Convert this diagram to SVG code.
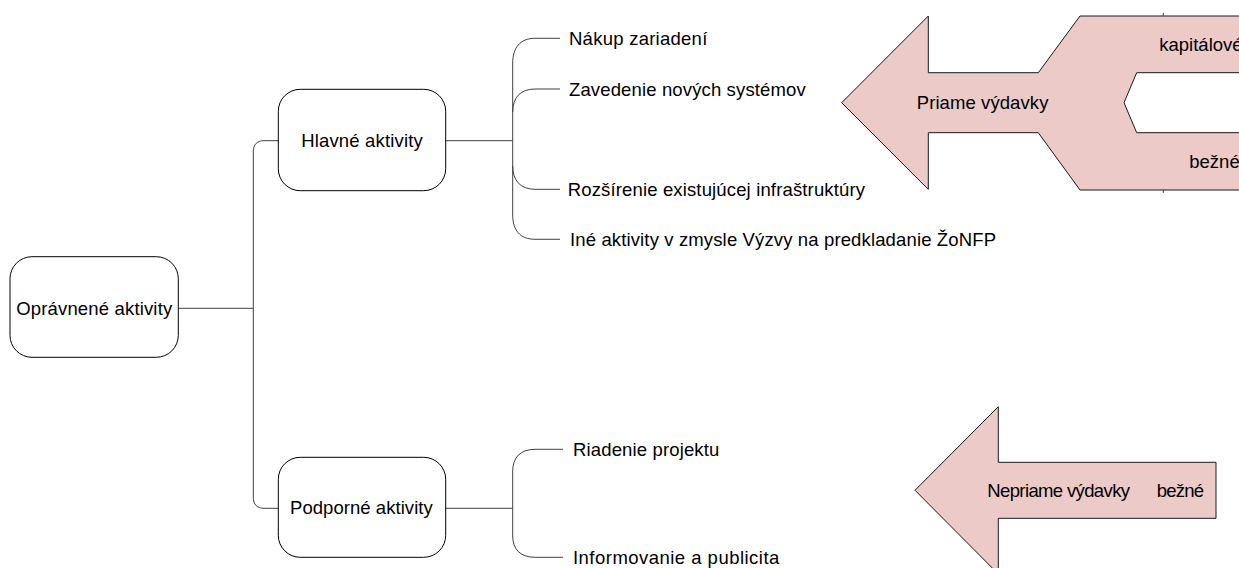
<svg xmlns="http://www.w3.org/2000/svg" width="1239" height="568" viewBox="0 0 1239 568">
<style>
  .node { fill: #ffffff; stroke: #000000; stroke-width: 1; }
  .conn { fill: none; stroke: #404040; stroke-width: 1; }
  .arrow { fill: #ebcac7; stroke: #1a1a1a; stroke-width: 1; stroke-linejoin: miter; }
  text { font-family: "Liberation Sans", Arial, sans-serif; font-size: 18.5px; fill: #000000; }
  .mid { text-anchor: middle; }
</style>
<rect x="0" y="0" width="1239" height="568" fill="#ffffff"/>

<g id="connectors">
  <path class="conn" d="M178.3 308.3 H253.3"/>
  <path class="conn" d="M278.3 140.7 H264 C257 140.7 253.3 144.5 253.3 151.7 V497.3 C253.3 504.5 257 508.3 264 508.3 H278.3"/>
  <path class="conn" d="M445.7 140.7 H512.7"/>
  <path class="conn" d="M560 38.3 H535 C520 38.3 512.7 48 512.7 63 V215 C512.7 230 520 239.3 535 239.3 H560"/>
  <path class="conn" d="M560 89 H535 C520 89 512.7 98 512.7 112"/>
  <path class="conn" d="M512.7 166 C512.7 180 520 189.3 535 189.3 H560"/>
  <path class="conn" d="M445.7 508.3 H512.7"/>
  <path class="conn" d="M563 449.3 H535 C520 449.3 512.7 458 512.7 471 V536 C512.7 549 520 557.3 535 557.3 H563"/>
</g>

<g id="opravnene">
  <rect class="node" x="10" y="256.7" width="168.3" height="100.6" rx="22" ry="22"/>
  <text class="mid" x="94.2" y="314.5" textLength="156">Oprávnené aktivity</text>
</g>

<g id="hlavne">
  <rect class="node" x="278.3" y="89.3" width="167.4" height="101.4" rx="22" ry="22"/>
  <text class="mid" x="362" y="146.5" textLength="121.7">Hlavné aktivity</text>
</g>

<g id="podporne">
  <rect class="node" x="278.3" y="457.3" width="167.4" height="100" rx="22" ry="22"/>
  <text class="mid" x="361.4" y="514.3" textLength="142.7">Podporné aktivity</text>
</g>

<g id="nakup"><text x="569" y="45" textLength="138.3">Nákup zariadení</text></g>
<g id="zavedenie"><text x="569" y="95.5" textLength="236.7">Zavedenie nových systémov</text></g>
<g id="rozsirenie"><text x="567.7" y="195.5" textLength="297.3">Rozšírenie existujúcej infraštruktúry</text></g>
<g id="ine"><text x="570" y="245.5" textLength="426">Iné aktivity v zmysle Výzvy na predkladanie ŽoNFP</text></g>
<g id="riadenie"><text x="573" y="455.5" textLength="146.3">Riadenie projektu</text></g>
<g id="informovanie"><text x="573" y="563.5" textLength="206.3">Informovanie a publicita</text></g>

<g id="priame-vydavky">
  <path class="arrow" d="M841.7 102.7 L928.3 16 L928.3 72.7 L1038.3 72.7 L1080 16 L1245 16 L1245 72.7 L1136.7 72.7 L1124 102.7 L1136.7 132.7 L1245 132.7 L1245 190 L1080 190 L1038.3 132.7 L928.3 132.7 L928.3 189.4 Z"/>
  <path class="conn" d="M1163.3 13 V16 M1163.3 190 V193"/>
  <text x="916.7" y="109" textLength="131.7">Priame výdavky</text>
  <text x="1159.3" y="51">kapitálové</text>
  <text x="1189.3" y="168">bežné</text>
</g>

<g id="nepriame-vydavky">
  <path class="arrow" d="M915 490.3 L998.3 406.7 L998.3 462.3 L1216 462.3 L1216 518.3 L998.3 518.3 L998.3 574 Z"/>
  <text y="497"><tspan x="987.3" textLength="142.7">Nepriame výdavky</tspan><tspan x="1156.7" textLength="47.3">bežné</tspan></text>
</g>
</svg>
